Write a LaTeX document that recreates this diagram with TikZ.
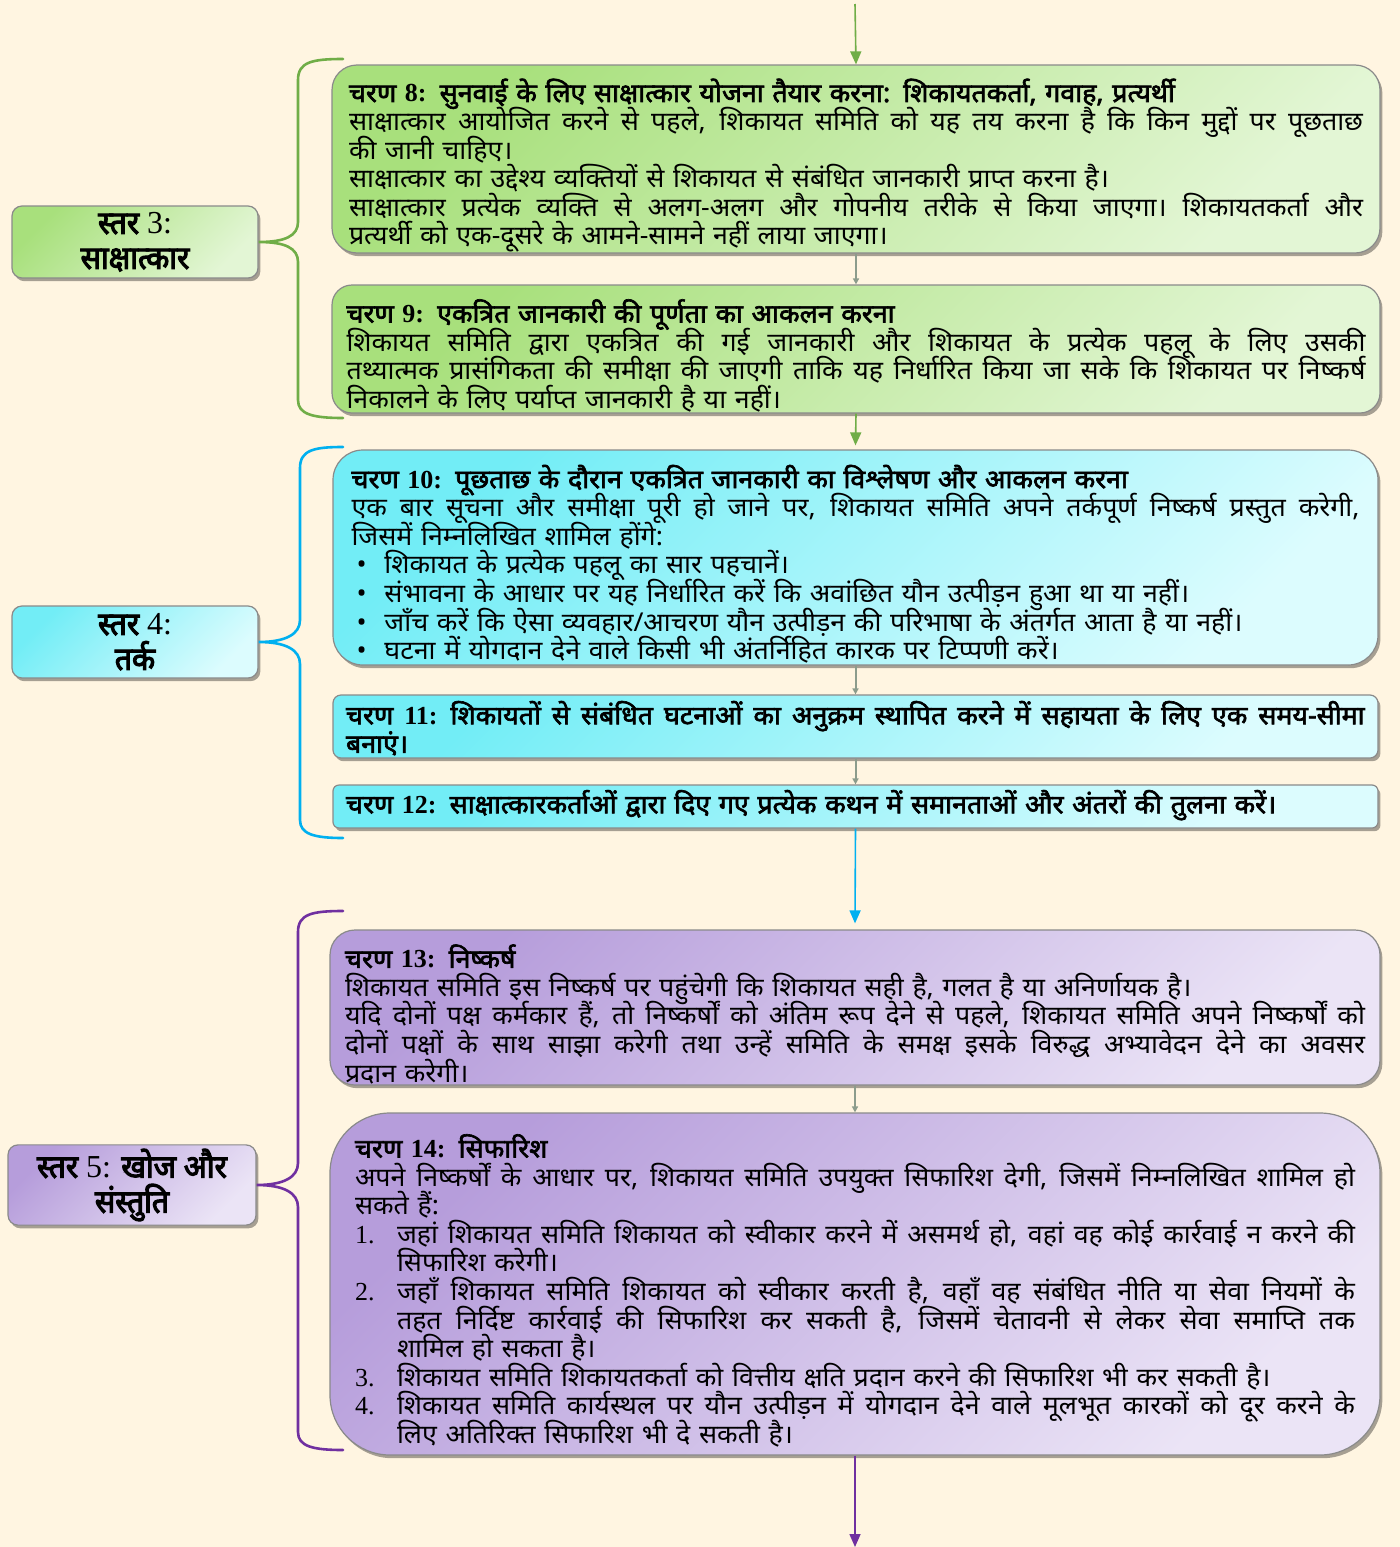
\documentclass[tikz,border=0pt]{standalone}
\usepackage{fontspec}
\newfontfamily\hin[Script=Devanagari,FakeStretch=1.03,
  BoldFont={Noto Sans},BoldFeatures={FakeBold=2.5}]{Noto Sans}
\newfontfamily\hinheavy[Script=Devanagari,FakeStretch=0.94,FakeBold=3.5]{Noto Sans}
\newfontfamily\numf{Liberation Serif}
\usetikzlibrary{arrows.meta,shadows}

\definecolor{bgcream}{HTML}{FFF5E1}
\definecolor{brgreen}{HTML}{70AD47}
\definecolor{brcyan}{HTML}{00B0F0}
\definecolor{brpurple}{HTML}{7030A0}
\definecolor{linkgray}{HTML}{8C9C8C}
\definecolor{boxline}{HTML}{8A8A8A}
\definecolor{gA}{HTML}{A8E07C}
\definecolor{gB}{HTML}{E3F6D5}
\definecolor{cA}{HTML}{72EDF6}
\definecolor{cB}{HTML}{DCFCFE}
\definecolor{pA}{HTML}{B69DDB}
\definecolor{pB}{HTML}{EBE4F6}

% one typeset line: justified to the full width, or left with its natural width
\newlength\listind
\newcommand\fillspaces{\XeTeXinterwordspaceshaping=0 \spaceskip=0.26em plus 1fil minus 0.08em\relax}
\newcommand\jline[1]{\hbox to\hsize{\fillspaces#1}}
\newcommand\lline[1]{\hbox to\hsize{#1\hfil}}
\newcommand\jitem[2]{\hbox to\hsize{\hbox to\listind{#1\hfil}\fillspaces#2}}
\newcommand\litem[2]{\hbox to\hsize{\hbox to\listind{#1\hfil}#2\hfil}}
\newcommand\dg[1]{{\numf #1}}
\newcommand\tightlines{\lineskiplimit=-\maxdimen\relax}
\newcommand\bodyfont{\hin\fontsize{13pt}{14.3pt}\selectfont}
\newcommand\levelfont{\hinheavy\fontsize{16pt}{17.5pt}\selectfont}

\tikzset{
  shadowed/.style={drop shadow={shadow xshift=1.2pt,shadow yshift=-1.6pt,fill=black,opacity=0.35}},
  stepbox/.style={shadowed,draw=boxline,line width=0.6pt,inner ysep=0pt,font=\bodyfont,
    execute at begin node={\tightlines\vskip#1}},
  stepbox/.default=4pt,
  greenfill/.style={top color=gA,bottom color=gB,shading angle=45},
  cyanfill/.style={top color=cA,bottom color=cB,shading angle=45},
  purplefill/.style={top color=pA,bottom color=pB,shading angle=45},
  levelbox/.style={shadowed,draw=boxline,line width=0.6pt,rounded corners=5pt,
    minimum height=36pt,inner sep=2pt,align=center,font=\levelfont},
  brace/.style={line width=1.3pt,line cap=round},
  link/.style={draw=linkgray,line width=1pt,-{Triangle[width=3pt,length=3pt]}},
  flow/.style={line width=0.8pt,-{Triangle[width=5.5pt,length=6.5pt]}},
}

\begin{document}
\begin{tikzpicture}[x=0.5pt,y=-0.5pt]
\fill[bgcream] (0,0) rectangle (1400,1547);
\useasboundingbox (0,0) rectangle (1400,1547);

% ---------- level 3 : interview ----------
\node[stepbox,greenfill,rounded corners=12.5pt,text width=507pt,inner xsep=8.5pt,
      minimum height=94pt] (b8) at (856,159) {%
\lline{\textbf{चरण \dg{8:} सुनवाई के लिए साक्षात्कार योजना तैयार करना: शिकायतकर्ता, गवाह, प्रत्यर्थी}}
\jline{साक्षात्कार आयोजित करने से पहले, शिकायत समिति को यह तय करना है कि किन मुद्दों पर पूछताछ}
\lline{की जानी चाहिए।}
\lline{साक्षात्कार का उद्देश्य व्यक्तियों से शिकायत से संबंधित जानकारी प्राप्त करना है।}
\jline{साक्षात्कार प्रत्येक व्यक्ति से अलग-अलग और गोपनीय तरीके से किया जाएगा। शिकायतकर्ता और}
\lline{प्रत्यर्थी को एक-दूसरे के आमने-सामने नहीं लाया जाएगा।}};

\node[stepbox,greenfill,rounded corners=10pt,text width=509.5pt,inner xsep=7.25pt,
      minimum height=64pt] (b9) at (856,349) {%
\lline{\textbf{चरण \dg{9:} एकत्रित जानकारी की पूर्णता का आकलन करना}}
\jline{शिकायत समिति द्वारा एकत्रित की गई जानकारी और शिकायत के प्रत्येक पहलू के लिए उसकी}
\jline{तथ्यात्मक प्रासंगिकता की समीक्षा की जाएगी ताकि यह निर्धारित किया जा सके कि शिकायत पर निष्कर्ष}
\lline{निकालने के लिए पर्याप्त जानकारी है या नहीं।}};

\node[levelbox,greenfill,minimum width=123pt] (l3) at (135,242) {स्तर \dg{3:}\\साक्षात्कार};

\draw[brace,brgreen] (343,59) .. controls (312,59) and (298,62) .. (298,80)
  -- (298,222) .. controls (298,236) and (285,242) .. (l3.east)
  .. controls (285,242) and (298,248) .. (298,262)
  -- (298,400) .. controls (298,414) and (312,418) .. (343,418);

% ---------- level 4 : reasoning ----------
\setlength\listind{16.5pt}
\node[stepbox,cyanfill,rounded corners=15pt,text width=504pt,inner xsep=9.25pt,
      minimum height=107.5pt] (b10) at (855.5,557.5) {%
\lline{\textbf{चरण \dg{10:} पूछताछ के दौरान एकत्रित जानकारी का विश्लेषण और आकलन करना}}
\jline{एक बार सूचना और समीक्षा पूरी हो जाने पर, शिकायत समिति अपने तर्कपूर्ण निष्कर्ष प्रस्तुत करेगी,}
\lline{जिसमें निम्नलिखित शामिल होंगे:}
\litem{\hspace{2.5pt}•}{शिकायत के प्रत्येक पहलू का सार पहचानें।}
\litem{\hspace{2.5pt}•}{संभावना के आधार पर यह निर्धारित करें कि अवांछित यौन उत्पीड़न हुआ था या नहीं।}
\litem{\hspace{2.5pt}•}{जाँच करें कि ऐसा व्यवहार/आचरण यौन उत्पीड़न की परिभाषा के अंतर्गत आता है या नहीं।}
\litem{\hspace{2.5pt}•}{घटना में योगदान देने वाले किसी भी अंतर्निहित कारक पर टिप्पणी करें।}};

\node[stepbox=-1pt,cyanfill,rounded corners=4pt,text width=509.5pt,inner xsep=6.5pt,
      minimum height=31.5pt] (b11) at (855.5,726.5) {%
\jline{\textbf{चरण \dg{11:} शिकायतों से संबंधित घटनाओं का अनुक्रम स्थापित करने में सहायता के लिए एक समय-सीमा}}
\lline{\textbf{बनाएं।}}};

\node[stepbox=-4pt,cyanfill,rounded corners=3pt,text width=509.5pt,inner xsep=6.5pt,
      minimum height=21.5pt] (b12) at (855.5,806.5) {%
\lline{\textbf{चरण \dg{12:} साक्षात्कारकर्ताओं द्वारा दिए गए प्रत्येक कथन में समानताओं और अंतरों की तुलना करें।}}};

\node[levelbox,cyanfill,minimum width=123pt] (l4) at (135,642) {स्तर \dg{4:}\\तर्क};

\draw[brace,brcyan] (343,447) .. controls (314,447) and (300,450) .. (300,468)
  -- (300,620) .. controls (300,634) and (286,642) .. (l4.east)
  .. controls (286,642) and (300,650) .. (300,664)
  -- (300,820) .. controls (300,834) and (314,838) .. (343,838);

% ---------- level 5 : finding and recommendation ----------
\node[stepbox,purplefill,rounded corners=12.5pt,text width=510pt,inner xsep=7.5pt,
      minimum height=77.5pt] (b13) at (855,1007.5) {%
\lline{\textbf{चरण \dg{13:} निष्कर्ष}}
\lline{शिकायत समिति इस निष्कर्ष पर पहुंचेगी कि शिकायत सही है, गलत है या अनिर्णायक है।}
\jline{यदि दोनों पक्ष कर्मकार हैं, तो निष्कर्षों को अंतिम रूप देने से पहले, शिकायत समिति अपने निष्कर्षों को}
\jline{दोनों पक्षों के साथ साझा करेगी तथा उन्हें समिति के समक्ष इसके विरुद्ध अभ्यावेदन देने का अवसर}
\lline{प्रदान करेगी।}};

\setlength\listind{21pt}
\node[stepbox,purplefill,rounded corners=30pt,text width=500pt,inner xsep=12.5pt,
      minimum height=171pt] (b14) at (855,1284) {%
\lline{\textbf{चरण \dg{14:} सिफारिश}}
\jline{अपने निष्कर्षों के आधार पर, शिकायत समिति उपयुक्त सिफारिश देगी, जिसमें निम्नलिखित शामिल हो}
\lline{सकते हैं:}
\jitem{\dg{1.}}{जहां शिकायत समिति शिकायत को स्वीकार करने में असमर्थ हो, वहां वह कोई कार्रवाई न करने की}
\litem{}{सिफारिश करेगी।}
\jitem{\dg{2.}}{जहाँ शिकायत समिति शिकायत को स्वीकार करती है, वहाँ वह संबंधित नीति या सेवा नियमों के}
\jitem{}{तहत निर्दिष्ट कार्रवाई की सिफारिश कर सकती है, जिसमें चेतावनी से लेकर सेवा समाप्ति तक}
\litem{}{शामिल हो सकता है।}
\litem{\dg{3.}}{शिकायत समिति शिकायतकर्ता को वित्तीय क्षति प्रदान करने की सिफारिश भी कर सकती है।}
\jitem{\dg{4.}}{शिकायत समिति कार्यस्थल पर यौन उत्पीड़न में योगदान देने वाले मूलभूत कारकों को दूर करने के}
\litem{}{लिए अतिरिक्त सिफारिश भी दे सकती है।}};

\node[levelbox,purplefill,minimum width=124pt,minimum height=37pt] (l5) at (132,1185) {स्तर \dg{5:} खोज और\\संस्तुति};

\draw[brace,brpurple] (343,911) .. controls (312,911) and (298,914) .. (298,932)
  -- (298,1163) .. controls (298,1177) and (284,1185) .. (l5.east)
  .. controls (284,1185) and (298,1193) .. (298,1207)
  -- (298,1432) .. controls (298,1446) and (312,1450) .. (343,1450);

% ---------- connectors ----------
\coordinate (flowin) at (855,4);
\coordinate (flowout) at (855,1547);
\draw[flow,brgreen] (flowin) -- (b8.north);
\draw[link] (b8.south) -- (b9.north);
\draw[flow,brgreen] (b9.south) -- ([yshift=2pt]b10.north);
\draw[link] (b10.south) -- (b11.north);
\draw[link] (b11.south) -- (b12.north);
\draw[flow,brcyan] (b12.south) -- ([yshift=3pt]b13.north);
\draw[link] (b13.south) -- (b14.north);
\draw[flow,brpurple] (b14.south) -- (flowout);
\end{tikzpicture}
\end{document}
